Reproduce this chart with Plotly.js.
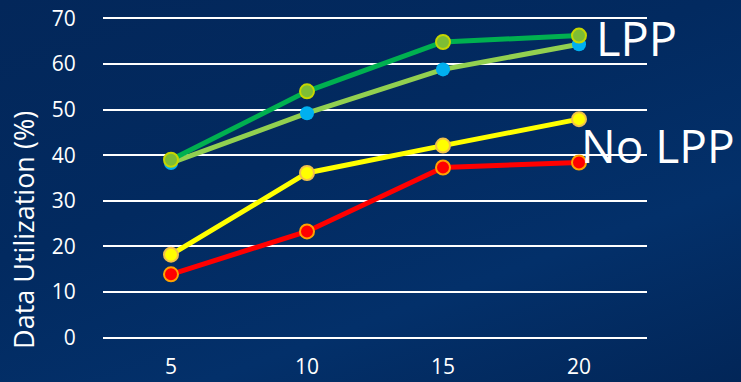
<!DOCTYPE html>
<html><head><meta charset="utf-8">
<script src="https://cdn.plot.ly/plotly-3.0.1.min.js"></script>
<style>
html,body{margin:0;padding:0;width:741px;height:382px;overflow:hidden;
background:linear-gradient(160deg,#03275a 0%,#022a60 40%,#03306a 70%,#022658 100%);}
#chart{width:741px;height:382px;}
</style></head>
<body><div id="chart"></div>
<script>
const xVals = [5, 10, 15, 20];
const lppA = [39, 54, 64.8, 66.2];     // dark green line
const lppB = [38.3, 49.2, 58.8, 64.3]; // light green line, blue markers
const noLppA = [18.2, 36.1, 42.1, 47.9]; // yellow
const noLppB = [13.9, 23.3, 37.3, 38.4]; // red
const yTicks = [0, 10, 20, 30, 40, 50, 60, 70];

const traces = [
  {x: xVals, y: lppB, mode: 'lines+markers', line: {color: '#92d050', width: 5},
   marker: {color: '#00b0f0', size: 14, line: {width: 0}}},
  {x: xVals, y: lppA, mode: 'lines+markers', line: {color: '#00b050', width: 5},
   marker: {color: '#7ebd34', size: 14, line: {color: '#c6d600', width: 2}}},
  {x: xVals, y: noLppB, mode: 'lines+markers', line: {color: '#ff0000', width: 5},
   marker: {color: '#ff0000', size: 14, line: {color: '#ffa200', width: 2}}},
  {x: xVals, y: noLppA, mode: 'lines+markers', line: {color: '#ffff00', width: 5},
   marker: {color: '#ffff00', size: 14, line: {color: '#f2c14a', width: 2}}}
];

const font = {family: 'Open Sans, Noto Sans, sans-serif', color: '#ffffff'};
const layout = {
  width: 741, height: 382,
  margin: {l: 103, r: 94, t: 15.7, b: 41.7},
  paper_bgcolor: 'rgba(0,0,0,0)', plot_bgcolor: 'rgba(0,0,0,0)',
  showlegend: false,
  font: font,
  xaxis: {range: [2.5, 22.5], tickvals: xVals, showgrid: false, zeroline: false,
          showline: false, ticks: 'outside', ticklen: 8, tickcolor: 'rgba(0,0,0,0)',
          tickfont: {size: 21, color: '#ffffff', family: font.family}},
  yaxis: {range: [-0.5, 70.5], tickvals: yTicks, showgrid: true, gridcolor: '#ffffff', gridwidth: 2,
          zeroline: false, showline: false, ticks: 'outside', ticklen: 22, tickcolor: 'rgba(0,0,0,0)',
          tickfont: {size: 21, color: '#ffffff', family: font.family}},
  annotations: [
    {text: 'LPP', x: 20.55, y: 65.6, xref: 'x', yref: 'y', xanchor: 'left', yanchor: 'middle',
     showarrow: false, font: {size: 47, color: '#ffffff', family: font.family}},
    {text: 'No LPP', x: 20.0, y: 42.2, xref: 'x', yref: 'y', xanchor: 'left', yanchor: 'middle',
     showarrow: false, font: {size: 46, color: '#ffffff', family: font.family}},
    {text: 'Data Utilization (%)', x: -0.145, y: 0.34, xref: 'paper', yref: 'paper',
     xanchor: 'center', yanchor: 'middle', textangle: -90, showarrow: false,
     font: {size: 27, color: '#ffffff', family: font.family}}
  ]
};
Plotly.newPlot('chart', traces, layout, {displayModeBar: false, staticPlot: true});
</script></body></html>
